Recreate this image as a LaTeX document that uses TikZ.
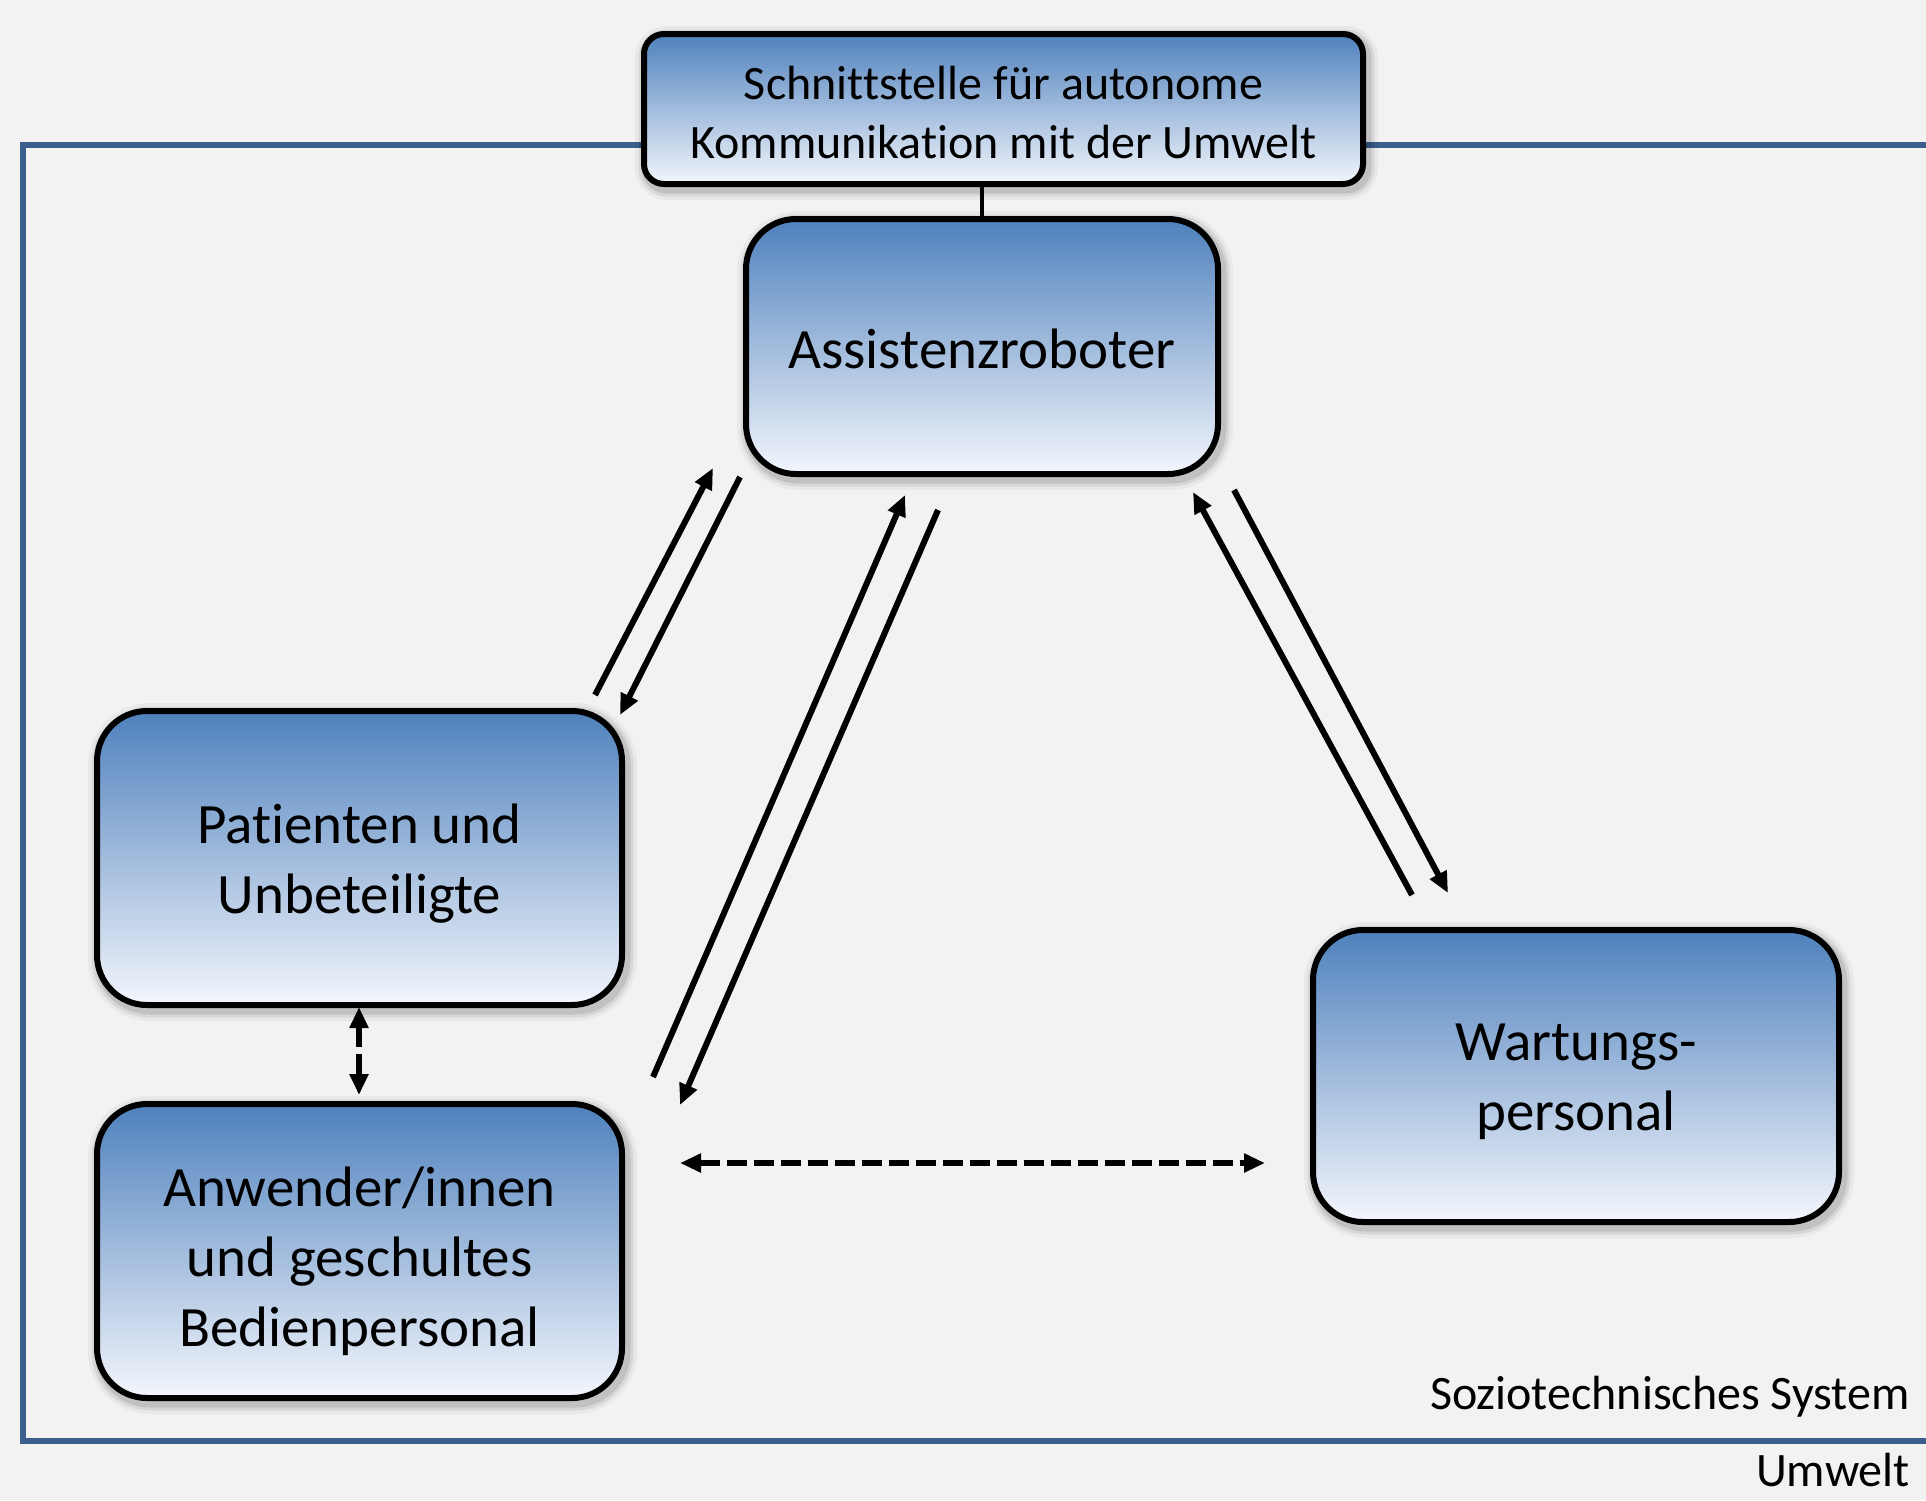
\documentclass[tikz,border=0pt]{standalone}
\usepackage{fontspec}
\setmainfont{Carlito}[Ligatures={NoCommon}]
\usetikzlibrary{arrows.meta,calc}
\definecolor{bg}{RGB}{242,242,242}
\definecolor{frameblue}{RGB}{58,95,140}
\definecolor{boxtop}{RGB}{79,129,189}
\definecolor{boxbot}{RGB}{243,246,252}
\tikzset{
  glow/.style={
    preaction={draw=black,draw opacity=0.04,line width=24pt,transform canvas={shift={(3pt,-4pt)}}},
    preaction={draw=black,draw opacity=0.07,line width=17pt,transform canvas={shift={(3pt,-4pt)}}},
    preaction={draw=black,draw opacity=0.10,line width=11pt,transform canvas={shift={(3pt,-4pt)}}}},
  boxbase/.style={draw=black,line width=6pt,top color=boxtop,bottom color=boxbot,
    glow,inner sep=0pt},
  bigbox/.style={boxbase,rounded corners=50pt},
  topbox/.style={boxbase,rounded corners=20pt},
  bigtext/.style={align=center,inner sep=0pt,font=\fontsize{57}{70}\selectfont},
  toptext/.style={align=center,inner sep=0pt,font=\fontsize{48}{59}\selectfont},
  lbl/.style={anchor=base east,font=\fontsize{48}{58}\selectfont,inner sep=0pt},
  arr/.style={line width=6pt,-{Triangle[length=21pt,width=18pt]}},
  darr/.style={line width=6pt,dash pattern=on 20pt off 7pt,
    {Triangle[length=21pt,width=18pt]}-{Triangle[length=21pt,width=18pt]}},
  framestyle/.style={draw=frameblue,line width=6pt}
}
\begin{document}
\begin{tikzpicture}[x=1pt,y=-1pt]
\useasboundingbox (0,0) rectangle (1926,1500);
\fill[bg] (0,0) rectangle (1926,1500);
% frame
\draw[framestyle] (1926,145) -- (23,145) -- (23,1441) -- (1926,1441);
% boxes
\node[topbox,minimum width=719pt,minimum height=150pt] (top) at (1003.5,109) {};
\node[bigbox,minimum width=472pt,minimum height=255pt] (rob) at (982,346.5) {};
\node[bigbox,minimum width=525pt,minimum height=294pt] (pat) at (359.5,858) {};
\node[bigbox,minimum width=525pt,minimum height=294pt] (anw) at (359.5,1251) {};
\node[bigbox,minimum width=526pt,minimum height=292pt] (war) at (1576,1076) {};
% box texts
\node[toptext] (topT) at ($(top.center)+(0,4)$) {Schnittstelle für autonome\\Kommunikation mit der Umwelt};
\node[bigtext] (robT) at ($(rob.center)+(0,2)$) {Assistenzroboter};
\node[bigtext] (patT) at ($(pat.center)+(0,6)$) {Patienten und\\Unbeteiligte};
\node[bigtext] (anwT) at ($(anw.center)+(0,10)$) {Anwender/innen\\und geschultes\\Bedienpersonal};
\node[bigtext] (warT) at ($(war.center)+(0,6)$) {Wartungs-\\personal};
% labels
\node[lbl] (sts) at (1910,1409) {Soziotechnisches System};
\node[lbl] (umw) at (1910,1486) {Umwelt};
% connector top box - robot
\draw[line width=4.5pt] (rob.north) -- (rob.north |- top.south);
% arrow endpoints
\coordinate (a1) at (595,695);  \coordinate (a2) at (713,468);
\coordinate (b1) at (740,477);  \coordinate (b2) at (620,715);
\coordinate (c1) at (653,1077); \coordinate (c2) at (905,495);
\coordinate (d1) at (938,510);  \coordinate (d2) at (680,1105);
\coordinate (e1) at (1412,895); \coordinate (e2) at (1193,492);
\coordinate (f1) at (1234,490); \coordinate (f2) at (1448,893);
\coordinate (v1) at (359,1007); \coordinate (v2) at (359,1095);
\coordinate (h1) at (680,1163); \coordinate (h2) at (1265,1163);
\draw[arr] (a1) -- (a2);
\draw[arr] (b1) -- (b2);
\draw[arr] (c1) -- (c2);
\draw[arr] (d1) -- (d2);
\draw[arr] (e1) -- (e2);
\draw[arr] (f1) -- (f2);
\draw[darr] (v1) -- (v2);
\draw[darr] (h1) -- (h2);
\end{tikzpicture}
\end{document}
